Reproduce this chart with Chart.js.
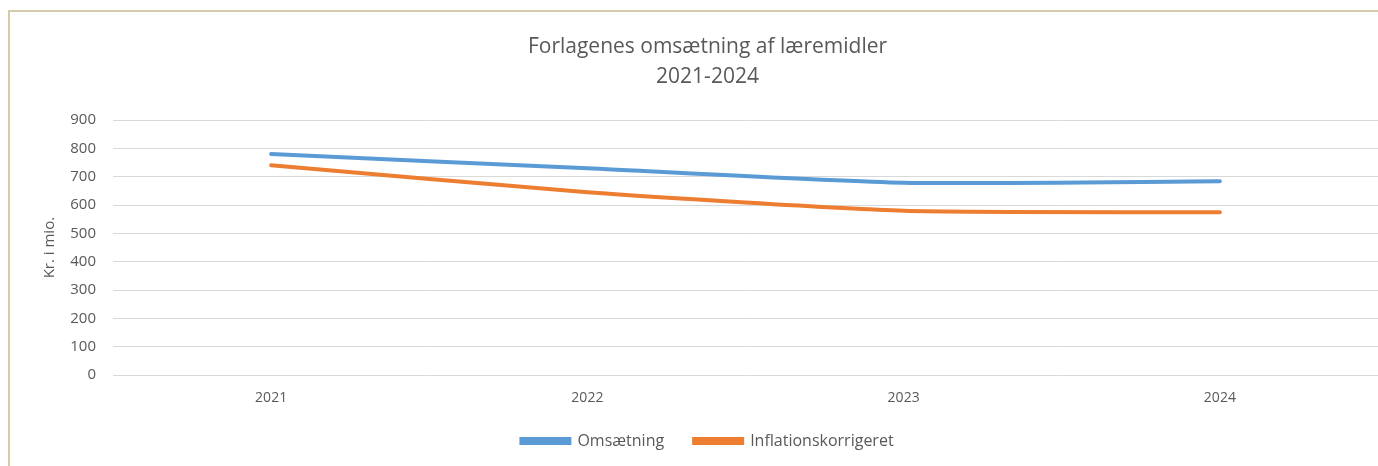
<!DOCTYPE html>
<html>
<head>
<meta charset="utf-8">
<script src="https://cdn.jsdelivr.net/npm/chart.js@4"></script>
<style>
  body { margin: 0; background: #fff; }
  #frame { position: absolute; left: 8px; top: 10px; width: 1400px; height: 470px; border: 2px solid #D3CBAA; box-sizing: border-box; }
  #Score { position: absolute; left: 0; top: 0; }
</style>
</head>
<body>
<div id="frame"></div>
<canvas id="Score" width="1378" height="466"></canvas>
<script>
var years = ['2021', '2022', '2023', '2024'];
var omsaetning = [780, 730, 679, 684];
var inflation = [741, 645, 580, 575];
var yTicks = [0, 100, 200, 300, 400, 500, 600, 700, 800, 900];

// legend keeps wide gaps between items, but sits closer to the axis
var legendFit = {
    id: 'legendFit',
    afterInit: function (chart) {
        var fit = chart.legend.fit;
        chart.legend.fit = function () {
            fit.call(this);
            this.height -= 2;
        };
    },
    afterLayout: function (chart) {
        chart.legend.top -= 9;
        chart.legend.bottom -= 9;
    }
};

var ctx = document.getElementById('Score').getContext('2d');
var chart = new Chart(ctx, {
    type: 'line',
    data: {
        labels: years,
        datasets: [{
            label: 'Omsætning',
            data: omsaetning,
            borderColor: '#5B9BD5',
            backgroundColor: '#5B9BD5',
            borderWidth: 4,
            pointRadius: 0,
            tension: 0.2,
            borderCapStyle: 'round'
        }, {
            label: 'Inflationskorrigeret',
            data: inflation,
            borderColor: '#ED7D31',
            backgroundColor: '#ED7D31',
            borderWidth: 4,
            pointRadius: 0,
            tension: 0.2,
            borderCapStyle: 'round'
        }]
    },
    options: {
        responsive: false,
        maintainAspectRatio: false,
        animation: false,
        layout: { padding: { left: 37, right: 0, top: 32, bottom: 0 } },
        plugins: {
            title: {
                display: true,
                text: ['Forlagenes omsætning af læremidler', '2021-2024'],
                color: '#595959',
                font: { family: 'Open Sans', size: 21, weight: 'normal', lineHeight: 1.43 },
                padding: { top: 0, bottom: 28 }
            },
            legend: {
                position: 'bottom',
                labels: {
                    color: '#595959',
                    font: { family: 'Open Sans', size: 16 },
                    boxWidth: 48,
                    boxHeight: 4,
                    padding: 30
                }
            },
            tooltip: { enabled: false }
        },
        scales: {
            x: {
                offset: true,
                grid: { display: false },
                border: { display: false },
                ticks: { color: '#595959', font: { family: 'Open Sans', size: 14 }, padding: 6 }
            },
            y: {
                min: 0,
                max: 900,
                afterBuildTicks: function (axis) { axis.ticks = yTicks.map(function (v) { return { value: v }; }); },
                afterFit: function (axis) { axis.width = 76; },
                grid: { color: '#D9D9D9', lineWidth: 1, drawTicks: false },
                border: { display: false },
                ticks: { color: '#595959', font: { family: 'Open Sans', size: 15 }, padding: 17 },
                title: {
                    display: true,
                    text: 'Kr. i mio.',
                    color: '#595959',
                    font: { family: 'Open Sans', size: 15 },
                    padding: { top: 4, bottom: 4 }
                }
            }
        }
    },
    plugins: [legendFit]
});
</script>
</body>
</html>
